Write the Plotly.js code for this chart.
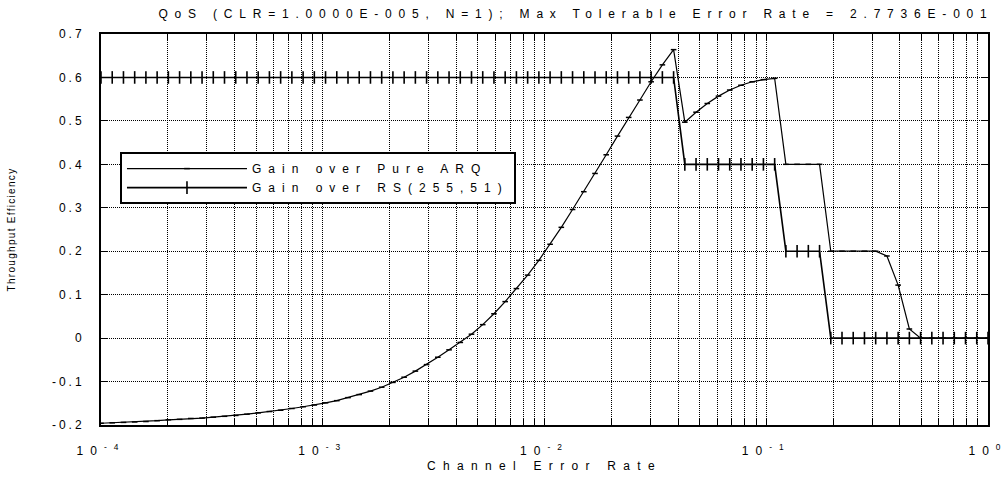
<!DOCTYPE html>
<html><head><meta charset="utf-8">
<script src="https://cdn.plot.ly/plotly-3.0.1.min.js"></script>
<style>
body{margin:0;background:#fff}
#chart{width:1007px;height:477px}
.gtitle{letter-spacing:6.8px}
.xtitle{letter-spacing:7.3px}
.ytitle{letter-spacing:1.3px}
.legendtext{letter-spacing:7px}
.ytick text{letter-spacing:3px}
.xtick text{letter-spacing:7px}
</style></head><body><div id="chart"></div>
<script>
// Channel error rate sample points (x)
const errorRate = [
 1.0000e-4,1.1237e-4,1.2626e-4,1.4187e-4,1.5941e-4,1.7912e-4,2.0127e-4,2.2616e-4,2.5413e-4,2.8555e-4,
 3.2086e-4,3.6053e-4,4.0511e-4,4.5520e-4,5.1149e-4,5.7473e-4,6.4580e-4,7.2565e-4,8.1538e-4,9.1620e-4,
 1.0295e-3,1.1568e-3,1.2998e-3,1.4605e-3,1.6411e-3,1.8441e-3,2.0721e-3,2.3283e-3,2.6162e-3,2.9396e-3,
 3.3031e-3,3.7115e-3,4.1705e-3,4.6861e-3,5.2656e-3,5.9166e-3,6.6482e-3,7.4702e-3,8.3939e-3,9.4318e-3,
 1.0598e-2,1.1908e-2,1.3381e-2,1.5036e-2,1.6895e-2,1.8984e-2,2.1331e-2,2.3969e-2,2.6932e-2,3.0262e-2,
 3.4004e-2,3.8209e-2,4.2933e-2,4.8242e-2,5.4207e-2,6.0910e-2,6.8441e-2,7.6904e-2,8.6413e-2,9.7098e-2,
 1.0911e-1,1.2260e-1,1.3776e-1,1.5479e-1,1.7393e-1,1.9543e-1,2.1960e-1,2.4675e-1,2.7726e-1,3.1155e-1,
 3.5007e-1,3.9336e-1,4.4200e-1,4.9665e-1,5.5806e-1,6.2706e-1,7.0460e-1,7.9173e-1,8.8962e-1,1.0000
];
// Gain over Pure ARQ
const gainPureARQ = [
 -0.196,-0.195,-0.194,-0.193,-0.192,-0.190,-0.188,-0.187,-0.185,-0.184,
 -0.182,-0.180,-0.178,-0.175,-0.172,-0.169,-0.166,-0.162,-0.158,-0.154,
 -0.149,-0.144,-0.137,-0.130,-0.122,-0.113,-0.102,-0.090,-0.076,-0.061,
 -0.044,-0.027,-0.010,0.009,0.031,0.056,0.084,0.114,0.145,0.179,
 0.216,0.255,0.296,0.337,0.379,0.422,0.465,0.508,0.548,0.590,
 0.629,0.664,0.497,0.520,0.540,0.557,0.571,0.582,0.590,0.595,
 0.598,0.400,0.400,0.400,0.400,0.200,0.200,0.200,0.200,0.200,
 0.189,0.122,0.021,0.000,0.000,0.000,0.000,0.000,0.000,0.000
];
// Gain over RS(255,51)
const gainRS = [
 0.6,0.6,0.6,0.6,0.6,0.6,0.6,0.6,0.6,0.6,
 0.6,0.6,0.6,0.6,0.6,0.6,0.6,0.6,0.6,0.6,
 0.6,0.6,0.6,0.6,0.6,0.6,0.6,0.6,0.6,0.6,
 0.6,0.6,0.6,0.6,0.6,0.6,0.6,0.6,0.6,0.6,
 0.6,0.6,0.6,0.6,0.6,0.6,0.6,0.6,0.6,0.6,
 0.6,0.6,0.4,0.4,0.4,0.4,0.4,0.4,0.4,0.4,
 0.4,0.2,0.2,0.2,0.2,0.0,0.0,0.0,0.0,0.0,
 0.0,0.0,0.0,0.0,0.0,0.0,0.0,0.0,0.0,0.0
];
const seriesNames = ['Gain over Pure ARQ', 'Gain over RS(255,51)'];
const yTickVals = [-0.2,-0.1,0,0.1,0.2,0.3,0.4,0.5,0.6,0.7];
const yTickText = ['-0.2','-0.1','0','0.1','0.2','0.3','0.4','0.5','0.6','0.7'];
const xTickVals = [1e-4, 1e-3, 1e-2, 1e-1, 1];
const xTickText = ['10<sup>-4</sup>','10<sup>-3</sup>','10<sup>-2</sup>','10<sup>-1</sup>','10<sup>0</sup>'];
const xMinorTickVals = [
 2e-4,3e-4,4e-4,5e-4,6e-4,7e-4,8e-4,9e-4,
 2e-3,3e-3,4e-3,5e-3,6e-3,7e-3,8e-3,9e-3,
 2e-2,3e-2,4e-2,5e-2,6e-2,7e-2,8e-2,9e-2,
 2e-1,3e-1,4e-1,5e-1,6e-1,7e-1,8e-1,9e-1
];
const titleText = 'QoS (CLR=1.0000E-005, N=1); Max Tolerable Error Rate = 2.7736E-001';
const xTitle = 'Channel Error Rate';
const yTitle = 'Throughput Efficiency';

const traces = [
 {x: errorRate, y: gainPureARQ, name: seriesNames[0], type: 'scatter', mode: 'lines+markers',
  line: {color: '#000', width: 1.2},
  marker: {symbol: 'line-ew', size: 4, color: '#000', line: {color: '#000', width: 1.5}}},
 {x: errorRate, y: gainRS, name: seriesNames[1], type: 'scatter', mode: 'lines+markers',
  line: {color: '#000', width: 1.6},
  marker: {symbol: 'line-ns', size: 9, color: '#000', line: {color: '#000', width: 1.6}}}
];

const axisCommon = {
 showline: true, linecolor: '#000', linewidth: 2, mirror: 'ticks',
 ticks: 'inside', ticklen: 7, tickcolor: '#000', tickwidth: 1,
 showgrid: true, gridcolor: '#000', gridwidth: 1, griddash: '1px,1px',
 zeroline: false, tickmode: 'array', ticklabeloverflow: 'allow'
};

const layout = {
 width: 1007, height: 477,
 margin: {l: 101, r: 19, t: 34, b: 52},
 paper_bgcolor: '#fff', plot_bgcolor: '#fff',
 font: {family: '"Liberation Sans", Arial, sans-serif', size: 12, color: '#000'},
 title: {text: titleText, x: 0.572, xref: 'container', xanchor: 'center',
         y: 0.971, yref: 'container', yanchor: 'middle', font: {size: 12}},
 xaxis: Object.assign({}, axisCommon, {
  type: 'log', range: [-4, 0], tickvals: xTickVals, ticktext: xTickText,
  tickfont: {size: 12}, ticklabelstandoff: 14,
  minor: {tickmode: 'array', tickvals: xMinorTickVals, ticks: 'inside', ticklen: 7,
          tickcolor: '#000', tickwidth: 1, showgrid: true, gridcolor: '#000',
          gridwidth: 1, griddash: '1px,1px'},
  title: {text: xTitle, font: {size: 12}, standoff: 4}
 }),
 yaxis: Object.assign({}, axisCommon, {
  range: [-0.2, 0.7], tickvals: yTickVals, ticktext: yTickText,
  tickfont: {size: 12}, ticklabelstandoff: 12,
  title: {text: yTitle, font: {size: 10}, standoff: 34}
 }),
 showlegend: true,
 legend: {x: 0.0214, y: 0.698, xanchor: 'left', yanchor: 'top',
  bordercolor: '#000', borderwidth: 2, bgcolor: '#fff', itemwidth: 120,
  font: {size: 12}, tracegroupgap: 0}
};

Plotly.newPlot('chart', traces, layout, {displayModeBar: false, staticPlot: true});
</script></body></html>
